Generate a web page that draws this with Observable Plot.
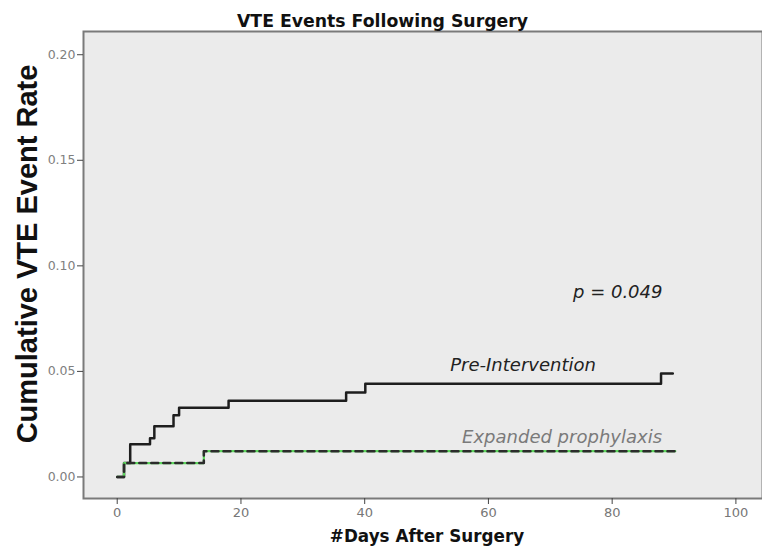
<!DOCTYPE html>
<html><head><meta charset="utf-8">
<script src="https://cdn.jsdelivr.net/npm/d3@7"></script>
<script src="https://cdn.jsdelivr.net/npm/@observablehq/plot@0.6"></script>
<style>body{margin:0;background:#fff;} svg{display:block}</style>
</head><body><div id="chart"></div>
<script>
// Pre-Intervention cumulative VTE event rate (step function)
const preDays  = [0, 1.1, 2.1, 5.3, 6.0, 9.1, 10.0, 18.0, 37.0, 40.1, 87.9, 89.8];
const preRates = [0, 0.0066, 0.0155, 0.0183, 0.024, 0.0292, 0.0328, 0.0361, 0.040, 0.0442, 0.049, 0.049];
// Expanded prophylaxis
const expDays  = [0, 1.1, 14.0, 90.2];
const expRates = [0, 0.0066, 0.0122, 0.0122];
const xTicks = [0, 20, 40, 60, 80, 100];
const yTicks = [0, 0.05, 0.10, 0.15, 0.20];
const labelTexts = ["Pre-Intervention", "Expanded prophylaxis", "p = 0.049"];
const labelDays  = [65.6, 71.9, 80.9];
const labelRates = [0.0529, 0.0188, 0.0875];
const labelColors = ["#222", "#7a7a7a", "#222"];

const pre = preDays.map((d, i) => ({day: d, rate: preRates[i]}));
const exp = expDays.map((d, i) => ({day: d, rate: expRates[i]}));
const labels = labelTexts.map((t, i) => ({text: t, day: labelDays[i], rate: labelRates[i], color: labelColors[i]}));

const chart = Plot.plot({
  width: 762, height: 558,
  marginLeft: 83, marginRight: 0, marginTop: 31, marginBottom: 60,
  style: {background: "#fff", fontFamily: "DejaVu Sans"},
  x: {domain: [-5.45, 104.3]},
  y: {domain: [-0.0102, 0.211]},
  color: {type: "identity"},
  marks: [
    Plot.frame({fill: "#ebebeb", stroke: "#7a7a7a", strokeWidth: 2}),
    Plot.axisX({ticks: xTicks, tickSize: 6, tickPadding: 3, fontSize: 13, stroke: "#444", fill: "#777", label: null, tickFormat: d3.format("d")}),
    Plot.axisY({ticks: yTicks, tickSize: 6, tickPadding: 2, fontSize: 12.5, stroke: "#444", fill: "#808080", label: null, tickFormat: d3.format(".2f")}),
    Plot.line(pre, {x: "day", y: "rate", curve: "step-after", stroke: "#1e1e1e", strokeWidth: 2.5}),
    Plot.line(exp, {x: "day", y: "rate", curve: "step-after", stroke: "#5cd65c", strokeWidth: 2.2}),
    Plot.line(exp, {x: "day", y: "rate", curve: "step-after", stroke: "#2b2b2b", strokeWidth: 2.5, strokeDasharray: "7,5"}),
    Plot.text(labels, {x: "day", y: "rate", text: "text", fill: "color", fontSize: 18, fontStyle: "italic", fontFamily: "DejaVu Sans"}),
    Plot.text(["VTE Events Following Surgery"], {frameAnchor: "top-left", dx: 299, dy: -17, text: d => d, textAnchor: "middle", fontSize: 17.3, fontWeight: "bold", fontFamily: "DejaVu Sans", fill: "#111"}),
    Plot.text(["#Days After Surgery"], {frameAnchor: "bottom", dx: 4, dy: 43, text: d => d, fontSize: 16.8, fontWeight: "bold", fontFamily: "DejaVu Sans", fill: "#111"}),
    Plot.text(["Cumulative VTE Event Rate"], {frameAnchor: "left", dx: -56, dy: -11, textAnchor: "middle", text: d => d, rotate: -90, fontSize: 29, fontWeight: "bold", fontFamily: "Liberation Sans", fill: "#111"})
  ]
});
document.getElementById("chart").appendChild(chart);
</script>
</body></html>
